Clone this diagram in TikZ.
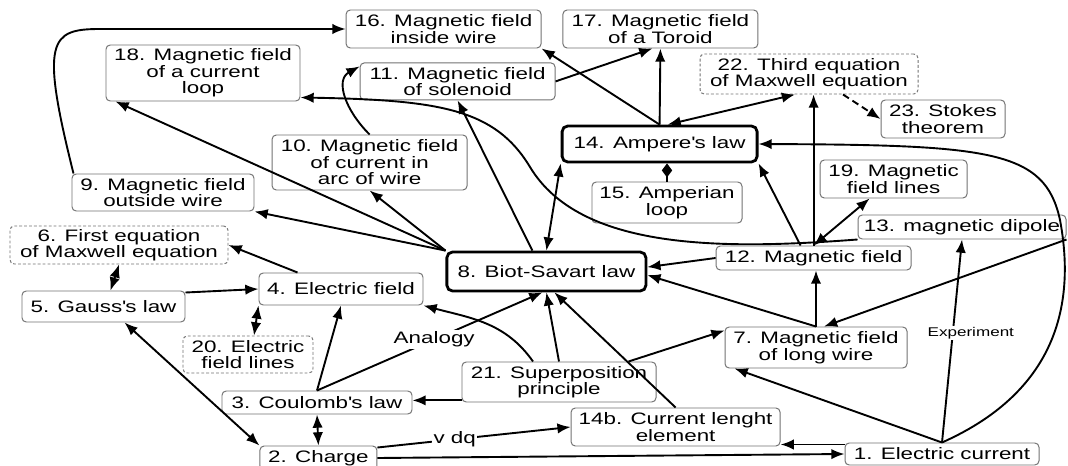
\documentclass[tikz,border=0pt]{standalone}
\usepackage{fontspec}
\setmainfont{Liberation Sans}[FakeStretch=1.35]
\usetikzlibrary{arrows.meta}
\newcommand{\mapfont}{\fontsize{11.8}{11.7}\selectfont}
\newcommand{\smallmapfont}{\fontsize{9}{10}\selectfont}

\begin{document}
\begin{tikzpicture}[
  concept/.style={draw=black!55, line width=0.7pt, rounded corners=3pt, align=center, inner sep=1pt, font=\mapfont},
  law/.style={concept, draw=black, line width=2pt, rounded corners=4pt},
  maxwell/.style={concept, dash pattern=on 2pt off 1.5pt},
  boxsize/.style 2 args={minimum width=#1cm, minimum height=#2cm},
  link/.style={-{Latex[length=3.3mm,width=2.6mm]}, line width=1.35pt},
  twoway/.style={{Latex[length=3.3mm,width=2.6mm]}-{Latex[length=3.3mm,width=2.6mm]}, line width=1.35pt},
  linklabel/.style={fill=white, inner sep=1pt, font=\mapfont}
]

\path[use as bounding box, fill=white] (0,0) rectangle (26.7,11.625);

% ================= NODES =================
\node[concept, boxsize={4.85}{0.55}] (current) at (23.55,0.275) {1. Electric current};
\node[concept, boxsize={2.925}{0.6}] (charge) at (7.96,0.175) {2. Charge};
\node[concept, boxsize={4.75}{0.575}] (coulomb) at (7.925,1.5625) {3. Coulomb\textquotesingle s law};
\node[concept, boxsize={4.1}{0.8}] (efield) at (8.525,4.4) {4. Electric field};
\node[concept, boxsize={4.075}{0.775}] (gauss) at (2.5875,3.9625) {5. Gauss\textquotesingle s law};
\node[maxwell, boxsize={5.45}{0.95}] (firsteq) at (2.975,5.5) {6. First equation\\of Maxwell equation};
\node[concept, boxsize={4.55}{1.025}] (longwire) at (20.4,2.9375) {7. Magnetic field\\of long wire};
\node[law, boxsize={4.975}{0.975}] (biot) at (13.66,4.8375) {8. Biot-Savart law};
\node[concept, boxsize={4.55}{0.925}] (outside) at (4.075,6.8125) {9. Magnetic field\\outside wire};
\node[concept, boxsize={4.875}{1.375}] (arc) at (9.24,7.5625) {10. Magnetic field\\of current in\\arc of wire};
\node[concept, boxsize={4.875}{0.925}] (solenoid) at (11.44,9.59) {11. Magnetic field\\of solenoid};
\node[concept, boxsize={4.875}{0.6}] (bfield) at (20.34,5.175) {12. Magnetic field};
\node[concept, boxsize={5.2}{0.6}] (dipole) at (24.05,5.95) {13. magnetic dipole};
\node[law, boxsize={4.875}{0.9}] (ampere) at (16.49,8.025) {14. Ampere\textquotesingle s law};
\node[concept, boxsize={3.75}{1.025}] (amperian) at (16.675,6.5625) {15. Amperian\\loop};
\node[concept, boxsize={4.875}{0.95}] (inside) at (11.09,10.9) {16. Magnetic field\\inside wire};
\node[concept, boxsize={4.875}{0.95}] (toroid) at (16.51,10.9) {17. Magnetic field\\of a Toroid};
\node[concept, boxsize={4.85}{1.4}] (loop) at (5.075,9.8) {18. Magnetic field\\of a current\\loop};
\node[concept, boxsize={3.675}{0.95}] (blines) at (22.34,7.15) {19. Magnetic\\field lines};
\node[maxwell, boxsize={3.25}{0.925}] (elines) at (6.2,2.7625) {20. Electric\\field lines};
\node[concept, boxsize={4.85}{1.0}] (superpos) at (13.975,2.075) {21. Superposition\\principle};
\node[maxwell, boxsize={5.45}{1.0}] (thirdeq) at (20.225,9.775) {22. Third equation\\of Maxwell equation};
\node[concept, boxsize={3.1}{0.95}] (stokes) at (23.575,8.65) {23. Stokes\\theorem};
\node[concept, boxsize={5.225}{0.95}] (element) at (16.89,0.95) {14b. Current lenght\\element};

% ================= BIOT-SAVART =================
\draw[link] (biot.north west) -- ([xshift=0.25cm]loop.south west);
\draw[link] (biot.north west) -- (outside.south east);
\draw[link] (biot.north west) -- (arc.south);
\draw[link] ([xshift=-0.35cm]biot.north) -- (solenoid.south);
\draw[twoway] (biot.north) -- (ampere.south west);

% ================= AMPERE =================
\draw[link] (ampere.north) -- (inside.south east);
\draw[link] (ampere.north) -- (toroid.south);
\draw[link] (solenoid.east) -- ([xshift=-0.2cm]toroid.south);
\draw[twoway] ([xshift=0.2cm]ampere.north) -- ([xshift=-0.35cm]thirdeq.south);
\draw[link, dash pattern=on 5pt off 3pt] ([xshift=0.85cm]thirdeq.south) -- (stokes.west);
\draw[-{Diamond[length=3.5mm,width=2.6mm]}, line width=1.35pt] (amperian.north) -- (amperian.north |- ampere.south);

% ================= MAGNETIC FIELD =================
\draw[link] (bfield.north) -- (bfield.north |- thirdeq.south);
\draw[link] ([xshift=-0.325cm]bfield.north) -- (ampere.south east);
\draw[twoway] (bfield.north) -- ([xshift=-0.6cm]blines.south);
\draw[link] (bfield.west) -- ([yshift=0.11cm]biot.east);

% ================= LONG WIRE =================
\draw[link] (longwire.north) -- ([yshift=-0.09cm]biot.east);
\draw[link] (longwire.north) -- (longwire.north |- bfield.south);
\draw[link] (dipole.south east) -- ([xshift=0.2cm]longwire.north);

% ================= ELECTRIC CURRENT =================
\draw[link] (current.north) -- node[linklabel, pos=0.54, xshift=0.45cm, font=\smallmapfont] {Experiment} (dipole.south);
\draw[link] (current.north) -- ([xshift=0.25cm]longwire.south west);
\draw[link] ([yshift=-0.05cm]current.north west) -- ([yshift=-0.05cm]current.north west -| element.east);
\draw[link] (current.north) .. controls (26.5,1.875) and (26.875,4.125) .. (26.5,6.125)
  .. controls (26.125,7.875) and (24.75,8.0) .. (ampere.east);

% ================= CHARGE / COULOMB =================
\draw[link] (charge.east) -- (current.west);
\draw[link] ([yshift=-0.05cm]charge.north east) -- node[linklabel, pos=0.4] {v dq} (element.west);
\draw[twoway] (coulomb.south) -- (charge.north);
\draw[twoway] ([xshift=0.525cm]gauss.south) -- (charge.north west);
\draw[link] (coulomb.north) -- (efield.south);
\draw[link] (coulomb.north) -- node[linklabel, pos=0.52] {Analogy} ([xshift=-0.1cm]biot.south);

% ================= ELECTRIC SIDE =================
\draw[link] ([yshift=-0.05cm]gauss.north east) -- (efield.west);
\draw[link] ([xshift=0.975cm]efield.north west) -- (firsteq.east);
\draw[twoway] (firsteq.south) -- ([xshift=0.175cm]gauss.north);
\draw[twoway] (efield.south west) -- ([xshift=0.15cm]elines.north);

% ================= SUPERPOSITION =================
\draw[link] (superpos.north) -- (biot.south);
\draw[link] ([xshift=-0.65cm]superpos.north) to[out=125,in=-15] (efield.south east);
\draw[link] ([xshift=-0.7cm]superpos.north east) -- ([yshift=-0.1cm]longwire.north west);
\draw[link] ([yshift=1.5pt]superpos.west |- coulomb.east) -- ([yshift=1.5pt]coulomb.east);
\draw[link] (element.north) -- ([xshift=0.2cm]biot.south);

% ================= LONG CURVES =================
\draw[link] ([xshift=0.05cm]outside.north west) .. controls (1.0,10.625) and (1.25,10.9) .. (2.5,10.9) -- (inside.west);
\draw[link] (arc.north) .. controls (8.625,8.875) and (8.375,9.625) .. ([yshift=-0.1cm]solenoid.north west);
\draw[link] (dipole.south west) .. controls (18.0,5.375) and (14.5,5.375) .. (13.25,7.45)
  .. controls (12.375,8.9) and (11.0,9.125) .. ([yshift=0.1cm]loop.south east);

\end{tikzpicture}
\end{document}
